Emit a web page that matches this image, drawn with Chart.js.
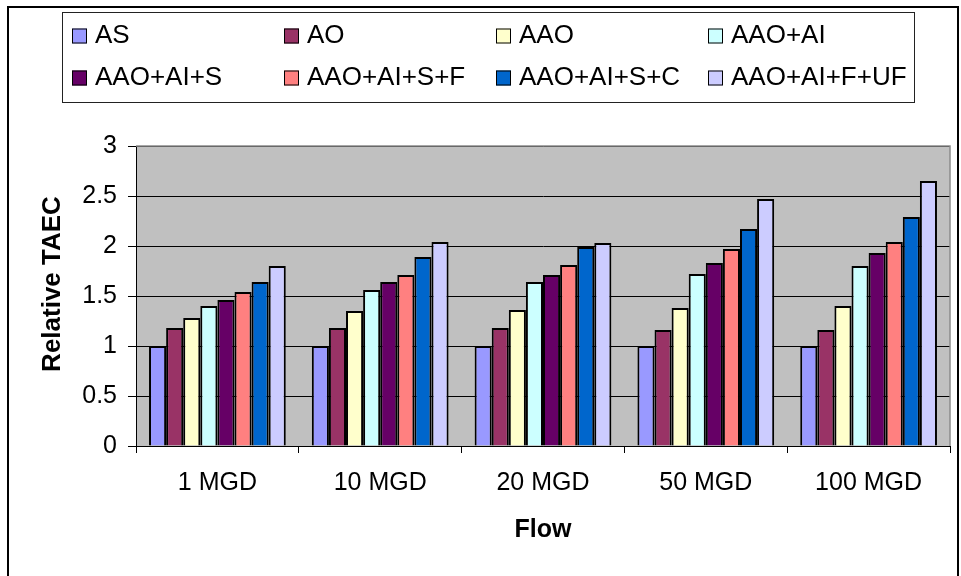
<!DOCTYPE html>
<html>
<head>
<meta charset="utf-8">
<script src="https://cdn.jsdelivr.net/npm/chart.js@4/dist/chart.umd.min.js"></script>
<style>
  html, body { margin: 0; padding: 0; background: #fff; }
  canvas { display: block; }
</style>
</head>
<body>
<canvas id="c" width="961" height="576"></canvas>
<script>
// Flow categories
const flows = ['1 MGD', '10 MGD', '20 MGD', '50 MGD', '100 MGD'];

// Relative TAEC per process train
const AS        = [1.00, 1.00, 1.00, 1.00, 1.00];
const AO        = [1.18, 1.18, 1.18, 1.16, 1.16];
const AAO       = [1.28, 1.35, 1.36, 1.38, 1.40];
const AAO_AI    = [1.40, 1.56, 1.64, 1.72, 1.80];
const AAO_AI_S  = [1.46, 1.64, 1.71, 1.83, 1.93];
const AAO_AI_SF = [1.54, 1.71, 1.81, 1.97, 2.04];
const AAO_AI_SC = [1.64, 1.89, 1.99, 2.17, 2.29];
const AAO_AI_FUF= [1.80, 2.04, 2.03, 2.47, 2.65];

const seriesNames = ['AS', 'AO', 'AAO', 'AAO+AI', 'AAO+AI+S', 'AAO+AI+S+F', 'AAO+AI+S+C', 'AAO+AI+F+UF'];
const seriesValues = [AS, AO, AAO, AAO_AI, AAO_AI_S, AAO_AI_SF, AAO_AI_SC, AAO_AI_FUF];
const seriesColors = ['#9999FF', '#993366', '#FFFFCC', '#CCFFFF', '#660066', '#FF8080', '#0066CC', '#CCCCFF'];

// Y axis ticks
const yMin = 0, yMax = 3, yStep = 0.5;

const FONT = "'Liberation Sans', Arial, sans-serif";

const frame = {
  id: 'frame',
  beforeDraw(chart) {
    const { ctx, chartArea: a } = chart;
    ctx.save();
    ctx.fillStyle = '#fff';
    ctx.fillRect(0, 0, chart.width, chart.height);
    ctx.fillStyle = '#C0C0C0';
    ctx.fillRect(a.left, a.top, a.right - a.left, a.bottom - a.top);
    ctx.restore();
  },
  beforeDatasetsDraw(chart) {
    const { ctx, chartArea: a } = chart;
    ctx.save();
    ctx.strokeStyle = '#8a8a8a';
    ctx.lineWidth = 1.5;
    ctx.beginPath();
    ctx.moveTo(a.left, a.top);
    ctx.lineTo(a.right, a.top);
    ctx.lineTo(a.right, a.bottom);
    ctx.stroke();
    ctx.restore();
  },
  afterDraw(chart) {
    const { ctx } = chart;
    ctx.save();
    // outer chart border
    ctx.strokeStyle = '#000';
    ctx.lineWidth = 2;
    ctx.strokeRect(8, 7, 950, 600);

    // legend box
    ctx.lineWidth = 1;
    ctx.strokeStyle = '#222';
    ctx.strokeRect(62.5, 12.5, 852, 90);

    const colX = [72, 284, 496, 708];
    const rowY = [36, 78];
    ctx.font = '26px ' + FONT;
    ctx.textBaseline = 'middle';
    ctx.textAlign = 'left';
    chart.data.datasets.forEach((ds, i) => {
      const x = colX[i % 4];
      const y = rowY[Math.floor(i / 4)];
      ctx.fillStyle = ds.backgroundColor;
      ctx.fillRect(x, y - 7.5, 15, 15);
      ctx.strokeStyle = '#000';
      ctx.lineWidth = 1;
      ctx.strokeRect(x + 0.5, y - 7, 14, 14);
      ctx.fillStyle = '#000';
      ctx.fillText(ds.label, x + 23, y);
    });

    // y axis title
    ctx.font = 'bold 26px ' + FONT;
    ctx.textAlign = 'center';
    ctx.translate(53, 284);
    ctx.rotate(-Math.PI / 2);
    ctx.fillText('Relative TAEC', 0, 0);
    ctx.restore();
  }
};

new Chart(document.getElementById('c'), {
  type: 'bar',
  data: {
    labels: flows,
    datasets: seriesNames.map((name, i) => ({
      label: name,
      data: seriesValues[i],
      backgroundColor: seriesColors[i],
      borderColor: '#000',
      borderWidth: 2,
      categoryPercentage: 0.84,
      barPercentage: 1.0
    }))
  },
  options: {
    responsive: false,
    devicePixelRatio: 1,
    animation: false,
    layout: { padding: { top: 146, right: 11, left: 0, bottom: 0 } },
    plugins: { legend: { display: false }, tooltip: { enabled: false } },
    scales: {
      x: {
        afterFit(scale) { scale.height = 130; },
        grid: {
          display: true,
          drawOnChartArea: false,
          offset: true,
          color: '#000',
          tickLength: 7
        },
        border: { display: true, color: '#000', width: 1 },
        ticks: { color: '#000', font: { family: FONT, size: 25 }, padding: 15, maxRotation: 0 },
        title: {
          display: true,
          text: 'Flow',
          color: '#000',
          font: { family: FONT, size: 25, weight: 'bold' },
          padding: { top: 0, bottom: 31 }
        }
      },
      y: {
        min: yMin,
        max: yMax,
        afterFit(scale) { scale.width = 136; },
        grid: { color: '#000', lineWidth: 1, tickLength: 8 },
        border: { display: true, color: '#000', width: 1 },
        ticks: {
          stepSize: yStep,
          color: '#000',
          font: { family: FONT, size: 25 },
          padding: 11,
          callback: (v) => String(Number(v.toFixed(1)))
        }
      }
    }
  },
  plugins: [frame]
});
</script>
</body>
</html>
